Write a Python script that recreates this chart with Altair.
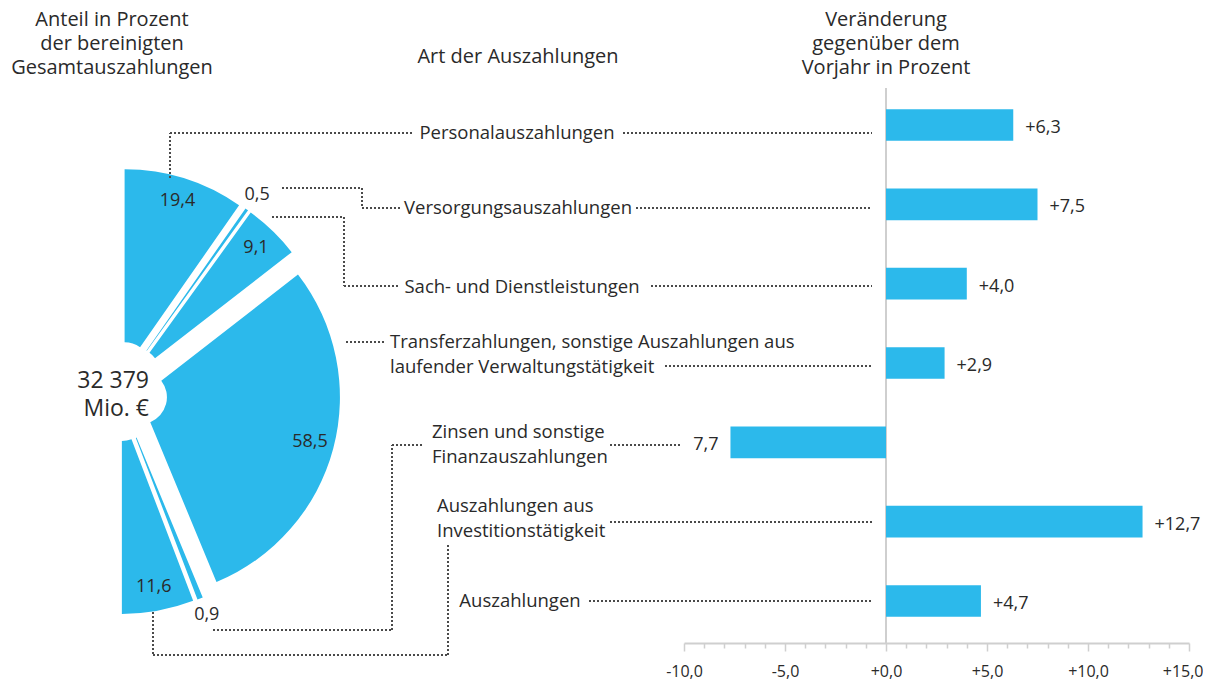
import altair as alt
import pandas as pd

# ---------------- data ----------------
categories = [
    "Personalauszahlungen",
    "Versorgungsauszahlungen",
    "Sach- und Dienstleistungen",
    "Transferzahlungen, sonstige Auszahlungen aus\nlaufender Verwaltungstätigkeit",
    "Zinsen und sonstige\nFinanzauszahlungen",
    "Auszahlungen aus\nInvestitionstätigkeit",
    "Auszahlungen",
]
pie_share = [19.4, 0.5, 9.1, 58.5, 0.9, 11.6]          # Anteil in Prozent (first six categories)
change_pct = [6.3, 7.5, 4.0, 2.9, -7.7, 12.7, 4.7]      # Veränderung gegenüber Vorjahr
total_text = "32 379\nMio. €"
title_left = "Anteil in Prozent\nder bereinigten\nGesamtauszahlungen"
title_mid = "Art der Auszahlungen"
title_right = "Veränderung\ngegenüber dem\nVorjahr in Prozent"
axis_ticks = list(range(-10, 16))

# ---------------- layout / style ----------------
W, H = 1195, 635
BLUE = "#2cb9eb"
TXT = "#2a2a2a"
FONT = "Open Sans"
PIE_CX, PIE_CY, EXPLODE = 117.7, 391.3, 23
R_OUT, R_IN = 200, 27

# label anchors (screen px, first line): x, y, align
label_layout = [
    (517, 133, "center"),
    (518, 208, "center"),
    (522, 287, "center"),
    (390, 342, "left"),
    (432, 432, "left"),
    (437, 506, "left"),
    (520, 601, "center"),
]
title_layout = [(112, 20, "center"), (518, 57, "center"), (886, 20, "center")]
total_layout = (149, 381, "right")

# dotted connector segments (screen px): x1, y1, x2, y2
segments = [
    (170, 178, 170, 133), (170, 133, 413, 133), (623, 133, 872, 133),
    (282, 188, 362, 188), (362, 188, 362, 208), (362, 208, 400, 208), (636, 208, 872, 208),
    (272, 217, 344, 217), (344, 217, 344, 286), (344, 286, 400, 286), (651, 286, 872, 286),
    (346, 342, 386, 342), (665, 366, 872, 366),
    (213, 630, 392, 630), (392, 630, 392, 445), (392, 445, 424, 445), (610, 445, 682, 445),
    (153, 612, 153, 655), (153, 655, 448, 655), (448, 655, 448, 543), (610, 522, 872, 522),
    (589, 601, 872, 601),
]

SX = alt.Scale(domain=[8, 8 + W], range=[0, W], nice=False, zero=False)
SY = alt.Scale(domain=[8, 8 + H], range=[0, H], nice=False, zero=False)
BX = alt.Scale(domain=[-10, 15], range=[676, 1181], nice=False, zero=False)
BY = alt.Scale(domain=[0, 6], range=[117, 593], nice=False, zero=False)

# ---------------- tables ----------------
df_pie = pd.DataFrame({
    "i": list(range(len(pie_share))),
    "cat": categories[:len(pie_share)],
    "share": pie_share,
    "lbl": [f"{s:.1f}".replace(".", ",") for s in pie_share],
})

df_bar = pd.DataFrame({
    "row": list(range(len(change_pct))),
    "cat": categories,
    "change": change_pct,
    "lbl": [(f"{v:+.1f}" if v >= 0 else f"{abs(v):.1f}").replace(".", ",") for v in change_pct],
})
df_bar["y0"] = df_bar["row"] - 0.2
df_bar["y1"] = df_bar["row"] + 0.2

df_seg = pd.DataFrame(segments, columns=["x1", "y1", "x2", "y2"])

df_lab = pd.DataFrame([
    {"x": x, "y": y, "align": a, "text": txt}
    for txt, (x, y, a) in zip(categories, label_layout)
])
df_title = pd.DataFrame([
    {"x": x, "y": y, "align": a, "text": txt}
    for txt, (x, y, a) in zip([title_left, title_mid, title_right], title_layout)
])
df_total = pd.DataFrame([{"x": total_layout[0], "y": total_layout[1], "text": total_text}])

# ---------------- pie ----------------
pie_base = alt.Chart(df_pie).transform_window(
    cum="sum(share)", sort=[alt.SortField("i")], frame=[None, 0]
).transform_calculate(
    t1="datum.cum / 100 * PI",
    t0="(datum.cum - datum.share) / 100 * PI",
).transform_calculate(
    mid="(datum.t0 + datum.t1) / 2"
).transform_calculate(
    cx=f"{PIE_CX} + {EXPLODE} * sin(datum.mid)",
    cy=f"{PIE_CY} - {EXPLODE} * cos(datum.mid)",
    lr="datum.share < 2 ? 218 : 176",
).transform_calculate(
    lx="datum.cx + datum.lr * sin(datum.mid)",
    ly="datum.cy - datum.lr * cos(datum.mid)",
)

pie = pie_base.mark_arc(radius=R_OUT, radius2=R_IN, color=BLUE).encode(
    theta=alt.Theta("t0:Q", scale=None, stack=False),
    theta2="t1:Q",
    x=alt.X("cx:Q", scale=SX, axis=None),
    y=alt.Y("cy:Q", scale=SY, axis=None),
)
pie_text = pie_base.mark_text(font=FONT, fontSize=18, color=TXT, align="center", baseline="middle").encode(
    x=alt.X("lx:Q", scale=SX, axis=None),
    y=alt.Y("ly:Q", scale=SY, axis=None),
    text="lbl:N",
)

connectors = alt.Chart(df_seg).mark_rule(strokeDash=[2, 2], strokeWidth=2, color="#4a4a4a").encode(
    x=alt.X("x1:Q", scale=SX, axis=None), x2="x2:Q",
    y=alt.Y("y1:Q", scale=SY, axis=None), y2="y2:Q",
)


def text_layer(df, align, size, lh):
    return alt.Chart(df).transform_filter(f"datum.align === '{align}'").mark_text(
        font=FONT, fontSize=size, color=TXT, align=align, baseline="middle", lineBreak="\n", lineHeight=lh
    ).encode(
        x=alt.X("x:Q", scale=SX, axis=None),
        y=alt.Y("y:Q", scale=SY, axis=None),
        text="text:N",
    )


total = alt.Chart(df_total).mark_text(
    font=FONT, fontSize=23, color=TXT, align="right", baseline="middle", lineBreak="\n", lineHeight=28
).encode(
    x=alt.X("x:Q", scale=SX, axis=None),
    y=alt.Y("y:Q", scale=SY, axis=None),
    text="text:N",
)

overlay = alt.layer(
    pie, pie_text, connectors,
    text_layer(df_lab, "center", 18.5, 25), text_layer(df_lab, "left", 18.5, 25),
    text_layer(df_title, "center", 20, 24),
    total,
)

# ---------------- bars ----------------
label_expr = (
    "datum.value % 5 === 0 ? (datum.value >= 0 ? '+' : '-') + "
    "replace(format(abs(datum.value), '.1f'), '.', ',') : ''"
)
bar_axis = alt.Axis(
    orient="bottom", values=axis_ticks, labelExpr=label_expr, title=None, grid=False,
    domainColor="#cfcfcf", domainWidth=2, tickColor="#cfcfcf", tickWidth=1.5,
    tickSize={"condition": {"test": "datum.value % 5 === 0", "value": 8}, "value": 5},
    labelFont=FONT, labelFontSize=16, labelColor=TXT, labelPadding=12,
    labelAlign={"condition": {"test": "datum.value === 15", "value": "right"}, "value": "center"},
    labelOffset={"condition": {"test": "datum.value === 15", "value": 14}, "value": 0},
    labelOverlap=False, labelFlush=False,
)

zero_rule = alt.Chart(df_bar).mark_rule(color="#cfcfcf", strokeWidth=2).encode(
    x=alt.datum(0, scale=BX), y=alt.value(80), y2=alt.value(H)
)
bars = alt.Chart(df_bar).mark_rect(color=BLUE).encode(
    x=alt.X("change:Q", scale=BX, axis=bar_axis),
    x2=alt.datum(0),
    y=alt.Y("y0:Q", scale=BY, axis=None),
    y2="y1:Q",
)
bar_text_pos = alt.Chart(df_bar).transform_filter("datum.change >= 0").mark_text(
    font=FONT, fontSize=18, color=TXT, align="left", baseline="middle", dx=12, dy=3
).encode(x="change:Q", y="row:Q", text="lbl:N")
bar_text_neg = alt.Chart(df_bar).transform_filter("datum.change < 0").mark_text(
    font=FONT, fontSize=18, color=TXT, align="right", baseline="middle", dx=-12, dy=3
).encode(x="change:Q", y="row:Q", text="lbl:N")

bar_group = alt.layer(zero_rule, bars, bar_text_pos, bar_text_neg)

chart = alt.layer(overlay, bar_group).resolve_scale(
    x="independent", y="independent"
).properties(
    width=W, height=H,
    autosize=alt.AutoSizeParams(type="none"),
    padding={"left": 0, "top": 0, "right": 0, "bottom": 38},
).configure_view(stroke=None)

chart.save("out.html", embed_options={"renderer": "svg", "actions": False})
